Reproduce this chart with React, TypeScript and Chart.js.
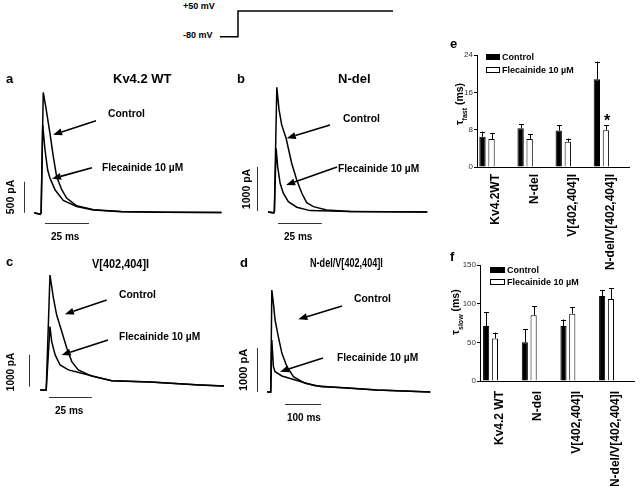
import React, { useEffect, useRef } from 'react';
import { Chart, registerables } from 'chart.js';

Chart.register(...registerables);

const FONT = '"Liberation Sans", Arial, Helvetica, sans-serif';
Chart.defaults.font.family = FONT;
Chart.defaults.color = '#000';

// ---------------- DATA ----------------
// voltage step protocol (ms, mV)
const protocolTimeMs = [-18, 0, 0, 155];
const protocolVoltageMv = [-80, -80, 50, 50];

// current traces: [time (ms), current (pA)]
const kvWtControl = [[-4.5, 0], [-1.2, -25], [-0.6, 0], [0.6, 1940], [2.0, 1714], [4.4, 1285], [6.3, 908], [8.2, 586], [11.1, 371], [13.9, 236], [19.6, 113], [29.2, 48], [45, 20], [70, 8], [102, 5]];
const kvWtFlecainide = [[-4.5, 0], [-1.2, -25], [-0.6, 0], [0.3, 1419], [1.6, 1016], [3.1, 693], [4.4, 560], [7.3, 371], [12, 200], [19.6, 100], [29.2, 45], [45, 18], [70, 8], [102, 5]];

const nDelControl = [[-4, 0], [-0.8, -20], [-0.4, 0], [1.0, 2830], [2.3, 2314], [3.8, 1974], [6.3, 1672], [9.5, 1105], [12.4, 726], [15.3, 424], [18.1, 211], [21.9, 120], [29.5, 45], [42.9, 10], [87, 0]];
const nDelFlecainide = [[-4, 0], [-0.8, -20], [-0.4, 0], [0.6, 1445], [1.5, 1028], [2.9, 651], [4.7, 424], [7.6, 234], [12.4, 107], [20, 30], [42.9, 10], [87, 0]];

const v402Control = [[-4, 0], [-0.5, 0], [1.7, 3590], [3.7, 2870], [5.6, 2340], [8.6, 1820], [11.5, 1300], [14.4, 885], [18.2, 625], [26, 430], [37.7, 290], [60, 250], [89, 155], [103, 125]];
const v402Flecainide = [[-4, 0], [-0.5, 0], [1.7, 1980], [2.7, 1510], [4.7, 1095], [7.6, 780], [12.4, 625], [20.2, 520], [29.9, 390], [37.7, 290], [60, 250], [89, 155], [103, 125]];

const nDelV402Control = [[-11, 0], [-1, 0], [2, 2315], [6.4, 2013], [11, 1634], [20, 1255], [30, 878], [44, 574], [62, 347], [94, 197], [141, 120], [206, 95], [294, 45], [442, 0]];
const nDelV402Flecainide = [[-11, 0], [-1, 0], [2, 1180], [6.4, 574], [11, 461], [30, 363], [67, 272], [122, 140], [206, 90], [294, 45], [442, 0]];

// tau fast (ms)
const tauFastCategories = ['Kv4.2WT', 'N-del', 'V[402,404]I', 'N-del/V[402,404]I'];
const tauFastControl = [6.5, 8.3, 7.8, 18.8];
const tauFastControlSem = [1.1, 0.9, 1.1, 3.8];
const tauFastFlecainide = [6.0, 6.0, 5.4, 7.9];
const tauFastFlecainideSem = [1.2, 1.1, 0.7, 1.1];
const tauFastTicks = [0, 8, 16, 24];

// tau slow (ms)
const tauSlowCategories = ['Kv4.2 WT', 'N-del', 'V[402,404]I', 'N-del/V[402,404]I'];
const tauSlowControl = [71, 50, 71, 110];
const tauSlowControlSem = [18, 17, 8.5, 7.5];
const tauSlowFlecainide = [55, 85, 87, 106];
const tauSlowFlecainideSem = [7.5, 12, 8.5, 14];
const tauSlowTicks = [0, 50, 100, 150];

// ---------------- PLUGINS ----------------
const errorBarPlugin = {
  id: 'errorBars',
  afterDatasetsDraw(chart: any) {
    const ctx = chart.ctx;
    const ys = chart.scales.y;
    ctx.save();
    ctx.strokeStyle = '#000';
    ctx.lineWidth = 1;
    chart.data.datasets.forEach((ds: any, i: number) => {
      if (!ds.errors) return;
      const meta = chart.getDatasetMeta(i);
      meta.data.forEach((bar: any, j: number) => {
        const v = ds.data[j];
        if (v == null) return;
        const top = ys.getPixelForValue(v + ds.errors[j]);
        const x = Math.round(bar.x) + 0.5;
        ctx.beginPath();
        ctx.moveTo(x, bar.y);
        ctx.lineTo(x, top);
        ctx.moveTo(x - 2.5, Math.round(top) + 0.5);
        ctx.lineTo(x + 2.5, Math.round(top) + 0.5);
        ctx.stroke();
      });
    });
    ctx.restore();
  },
};

function decorPlugin(decor: any) {
  return {
    id: 'traceDecor',
    afterDatasetsDraw(chart: any) {
      if (!decor) return;
      const ctx = chart.ctx;
      const xs = chart.scales.x;
      const ys = chart.scales.y;
      const X = (v: number) => xs.getPixelForValue(v);
      const Y = (v: number) => ys.getPixelForValue(v);
      ctx.save();
      // scale bars
      ctx.strokeStyle = '#333';
      ctx.lineWidth = 1;
      const vb = decor.vBar;
      const vx = Math.round(X(vb.t)) + 0.5;
      ctx.beginPath();
      ctx.moveTo(vx, Y(vb.i0));
      ctx.lineTo(vx, Y(vb.i0 + vb.amp));
      const hb = decor.hBar;
      const hy = Math.round(Y(hb.i)) + 0.5;
      ctx.moveTo(X(hb.t0), hy);
      ctx.lineTo(X(hb.t0 + hb.dur), hy);
      ctx.stroke();
      // arrows
      ctx.strokeStyle = '#000';
      ctx.fillStyle = '#000';
      ctx.lineWidth = 1.6;
      decor.arrows.forEach((a: any) => {
        const x1 = X(a.from[0]), y1 = Y(a.from[1]);
        const x2 = X(a.to[0]), y2 = Y(a.to[1]);
        const ang = Math.atan2(y2 - y1, x2 - x1);
        const L = 9, W = 3.5;
        const bx = x2 - L * Math.cos(ang), by = y2 - L * Math.sin(ang);
        ctx.beginPath();
        ctx.moveTo(x1, y1);
        ctx.lineTo(bx, by);
        ctx.stroke();
        ctx.beginPath();
        ctx.moveTo(x2, y2);
        ctx.lineTo(bx - W * Math.sin(ang), by + W * Math.cos(ang));
        ctx.lineTo(bx + W * Math.sin(ang), by - W * Math.cos(ang));
        ctx.closePath();
        ctx.fill();
      });
      ctx.restore();
    },
  };
}

const toXY = (arr: number[][]) => arr.map(([x, y]) => ({ x, y }));

function lineConfig(series: number[][][], xr: number[], yr: number[], decor: any, width = 1.5) {
  return {
    type: 'line',
    data: {
      datasets: series.map((s) => ({
        data: toXY(s),
        borderColor: '#000',
        borderWidth: width,
        pointRadius: 0,
        tension: 0,
        fill: false,
      })),
    },
    options: {
      animation: false,
      responsive: false,
      events: [],
      layout: { padding: 0 },
      plugins: { legend: { display: false }, tooltip: { enabled: false } },
      scales: {
        x: { type: 'linear', min: xr[0], max: xr[1], display: false },
        y: { type: 'linear', min: yr[0], max: yr[1], display: false },
      },
    },
    plugins: [decorPlugin(decor)],
  };
}

function barConfig(p: {
  cats: string[]; ctrl: number[]; ctrlErr: number[]; flec: number[]; flecErr: number[];
  ticks: number[]; yWidth: number; xHeight: number; padTop: number; padRight: number;
  catPct: number; labelPad: number;
}) {
  const common = { barPercentage: 0.7, categoryPercentage: p.catPct, borderColor: '#000', borderWidth: 1 };
  return {
    type: 'bar',
    data: {
      labels: p.cats,
      datasets: [
        { label: 'Control', data: p.ctrl, errors: p.ctrlErr, backgroundColor: '#000', ...common },
        { label: 'Flecainide 10 µM', data: p.flec, errors: p.flecErr, backgroundColor: '#fff', ...common },
        { label: '', data: p.cats.map(() => null), ...common },
        { label: '', data: p.cats.map(() => null), ...common },
      ],
    },
    options: {
      animation: false,
      responsive: false,
      events: [],
      layout: { padding: { top: p.padTop, right: p.padRight, left: 0, bottom: 0 } },
      plugins: { legend: { display: false }, tooltip: { enabled: false } },
      scales: {
        x: {
          type: 'category',
          grid: { display: false, drawTicks: false },
          border: { display: true, color: '#000', width: 1 },
          ticks: {
            autoSkip: false, maxRotation: 90, minRotation: 90, padding: p.labelPad,
            color: '#000', font: { size: 12, weight: 'bold', family: FONT },
          },
          afterFit: (s: any) => { s.height = p.xHeight; },
        },
        y: {
          min: p.ticks[0],
          max: p.ticks[p.ticks.length - 1],
          afterBuildTicks: (s: any) => { s.ticks = p.ticks.map((v) => ({ value: v })); },
          ticks: { padding: 1, color: '#333', font: { size: 8, family: FONT } },
          grid: { drawOnChartArea: false, tickLength: 3, color: '#000' },
          border: { display: true, color: '#000', width: 1 },
          afterFit: (s: any) => { s.width = p.yWidth; },
        },
      },
    },
    plugins: [errorBarPlugin],
  };
}

// ---------------- COMPONENTS ----------------
function ChartBox({ left, top, width, height, make }: any) {
  const ref = useRef<HTMLCanvasElement>(null);
  useEffect(() => {
    const chart = new Chart(ref.current as HTMLCanvasElement, make());
    return () => chart.destroy();
  }, []);
  return (
    <div style={{ position: 'absolute', left, top, width, height }}>
      <canvas ref={ref} width={width} height={height} style={{ display: 'block', width, height }} />
    </div>
  );
}

function Txt({ x, y, size, bold = true, sx = 1, rot = false, children }: any) {
  const transform = rot ? 'translate(-50%,-50%) rotate(-90deg)' : `translateY(-50%) scaleX(${sx})`;
  return (
    <div
      style={{
        position: 'absolute', left: x, top: y, fontSize: size, fontWeight: bold ? 700 : 400,
        lineHeight: 1, whiteSpace: 'nowrap', transform, transformOrigin: rot ? 'center' : 'left center',
        fontFamily: FONT, color: '#000',
      }}
    >
      {children}
    </div>
  );
}

function Box({ x, y, w, h, fill }: any) {
  return (
    <div
      style={{
        position: 'absolute', left: x, top: y, width: w, height: h, boxSizing: 'border-box',
        background: fill ? '#000' : '#fff', border: '1px solid #000',
      }}
    />
  );
}

export default function App() {
  return (
    <div style={{ position: 'absolute', left: 0, top: 0, width: 640, height: 486, background: '#fff', overflow: 'hidden', fontFamily: FONT }}>
      {/* protocol */}
      <ChartBox left={215} top={0} width={185} height={45}
        make={() => lineConfig([protocolTimeMs.map((t, i) => [t, protocolVoltageMv[i]])], [-23, 162], [-122, 106], null, 1.5)} />
      <Txt x={183} y={6} size={9}>+50 mV</Txt>
      <Txt x={183} y={35} size={9}>-80 mV</Txt>

      {/* panel a */}
      <ChartBox left={0} top={85} width={225} height={160}
        make={() => lineConfig([kvWtControl, kvWtFlecainide], [-24, 104], [-520, 2060], {
          vBar: { t: -10.4, i0: 0, amp: 500 }, hBar: { i: -161, t0: 1.6, dur: 25 },
          arrows: [{ from: [30.6, 1484], to: [6.2, 1258] }, { from: [28.3, 726], to: [5.6, 548] }],
        })} />
      <Txt x={6} y={78} size={13}>a</Txt>
      <Txt x={113} y={78} size={13}>Kv4.2 WT</Txt>
      <Txt x={108} y={114} size={10.4}>Control</Txt>
      <Txt x={102} y={167.5} size={10.2}>Flecainide 10 µM</Txt>
      <Txt x={10} y={197} size={10.5} rot>500 pA</Txt>
      <Txt x={51} y={237} size={10}>25 ms</Txt>

      {/* panel b */}
      <ChartBox left={225} top={85} width={210} height={160}
        make={() => lineConfig([nDelControl, nDelFlecainide], [-28.6, 91.4], [-750, 2880], {
          vBar: { t: -10.3, i0: 20, amp: 1000 }, hBar: { i: -250, t0: 1.7, dur: 25 },
          arrows: [{ from: [31.4, 1974], to: [6.7, 1672] }, { from: [35.4, 1021], to: [6.3, 613] }],
        })} />
      <Txt x={237} y={78} size={13}>b</Txt>
      <Txt x={338} y={78} size={13}>N-del</Txt>
      <Txt x={343} y={118.5} size={10.4}>Control</Txt>
      <Txt x={338} y={168.5} size={10.2}>Flecainide 10 µM</Txt>
      <Txt x={246} y={189} size={10.5} rot>1000 pA</Txt>
      <Txt x={284} y={237} size={10}>25 ms</Txt>

      {/* panel c */}
      <ChartBox left={0} top={268} width={225} height={152}
        make={() => lineConfig([v402Control, v402Flecainide], [-27.4, 103.6], [-940, 3810], {
          vBar: { t: -10.3, i0: 100, amp: 1000 }, hBar: { i: -219, t0: 1.1, dur: 25 },
          arrows: [{ from: [34.7, 2812], to: [10.4, 2366] }, { from: [35.5, 1562], to: [8.5, 1094] }],
        })} />
      <Txt x={6} y={261} size={13}>c</Txt>
      <Txt x={92} y={262.5} size={13} sx={0.84}>V[402,404]I</Txt>
      <Txt x={119} y={295} size={10.4}>Control</Txt>
      <Txt x={119} y={337} size={10.2}>Flecainide 10 µM</Txt>
      <Txt x={11} y={372} size={10} rot>1000 pA</Txt>
      <Txt x={55} y={411} size={10}>25 ms</Txt>

      {/* panel d */}
      <ChartBox left={225} top={268} width={210} height={152}
        make={() => lineConfig([nDelV402Control, nDelV402Flecainide], [-128, 455], [-636, 2815], {
          vBar: { t: -40, i0: 0, amp: 1000 }, hBar: { i: -272, t0: 38.6, dur: 100 },
          arrows: [{ from: [196.8, 1952], to: [75.5, 1650] }, { from: [144, 772], to: [24.7, 461] }],
        })} />
      <Txt x={240} y={261.5} size={13}>d</Txt>
      <Txt x={310} y={262} size={13} sx={0.7}>N-del/V[402,404]I</Txt>
      <Txt x={354} y={299} size={10.4}>Control</Txt>
      <Txt x={337} y={357.5} size={10.2}>Flecainide 10 µM</Txt>
      <Txt x={242.5} y={370} size={11} rot>1000 pA</Txt>
      <Txt x={287} y={418} size={10}>100 ms</Txt>

      {/* panel e */}
      <ChartBox left={440} top={40} width={200} height={240}
        make={() => barConfig({
          cats: tauFastCategories, ctrl: tauFastControl, ctrlErr: tauFastControlSem,
          flec: tauFastFlecainide, flecErr: tauFastFlecainideSem, ticks: tauFastTicks,
          yWidth: 37, xHeight: 113, padTop: 15, padRight: 10.5, catPct: 0.95, labelPad: 7,
        })} />
      <Txt x={450} y={42.5} size={13}>e</Txt>
      <Txt x={461} y={104} size={10.5} rot>τ<sub style={{ fontSize: 7 }}>fast</sub> (ms)</Txt>
      <Box x={486} y={54} w={14} h={6} fill />
      <Txt x={502} y={56.5} size={9}>Control</Txt>
      <Box x={486} y={67} w={14} h={6} />
      <Txt x={502} y={70} size={9}>Flecainide 10 µM</Txt>
      <Txt x={604} y={121} size={16}>*</Txt>

      {/* panel f */}
      <ChartBox left={440} top={255} width={200} height={231}
        make={() => barConfig({
          cats: tauSlowCategories, ctrl: tauSlowControl, ctrlErr: tauSlowControlSem,
          flec: tauSlowFlecainide, flecErr: tauSlowFlecainideSem, ticks: tauSlowTicks,
          yWidth: 40, xHeight: 105, padTop: 10, padRight: 2, catPct: 0.91, labelPad: 10,
        })} />
      <Txt x={450} y={256} size={13}>f</Txt>
      <Txt x={457} y={312} size={10.5} rot>τ<sub style={{ fontSize: 7 }}>slow</sub> (ms)</Txt>
      <Box x={490} y={267} w={15} h={6} fill />
      <Txt x={507} y={269.5} size={9}>Control</Txt>
      <Box x={490} y={278.5} w={15} h={6.5} />
      <Txt x={507} y={282} size={9}>Flecainide 10 µM</Txt>
    </div>
  );
}
